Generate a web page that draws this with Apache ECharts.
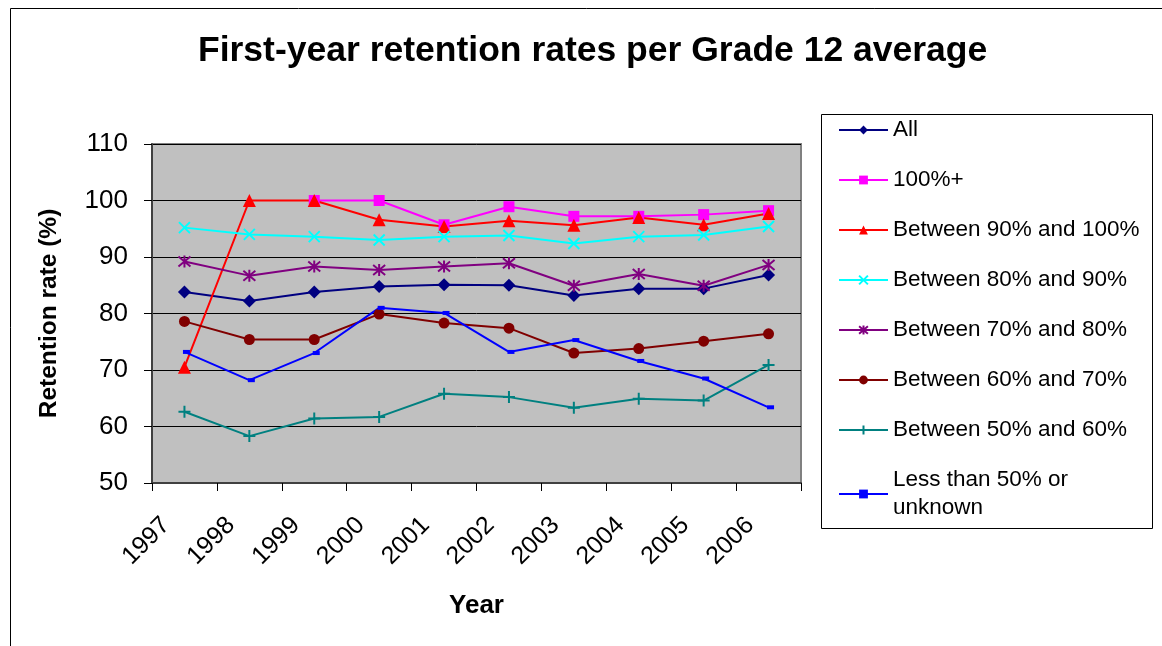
<!DOCTYPE html>
<html>
<head>
<meta charset="utf-8">
<title>First-year retention rates per Grade 12 average</title>
<script src="https://cdn.jsdelivr.net/npm/echarts@6/dist/echarts.min.js"></script>
<style>
  html, body { margin: 0; padding: 0; background: #fff; }
  #chart { width: 1162px; height: 646px; }
</style>
</head>
<body>
<div id="chart"></div>
<script>
// categories
const years = ['1997', '1998', '1999', '2000', '2001', '2002', '2003', '2004', '2005', '2006']

// series values (retention rate %)
const all = [83.8, 82.2, 83.8, 84.8, 85.1, 85.0, 83.2, 84.4, 84.4, 86.8]
const over100 = [null, null, 100, 100, 95.7, 98.9, 97.2, 97.2, 97.5, 98.2]
const from90to100 = [70.5, 100, 100, 96.6, 95.4, 96.4, 95.6, 97.0, 95.7, 97.7]
const from80to90 = [95.2, 94.0, 93.6, 93.0, 93.6, 93.8, 92.4, 93.6, 93.9, 95.4]
const from70to80 = [89.2, 86.7, 88.3, 87.7, 88.3, 88.9, 84.9, 87.0, 84.9, 88.6]
const from60to70 = [78.6, 75.4, 75.4, 79.9, 78.3, 77.4, 73.0, 73.8, 75.1, 76.4]
const from50to60 = [62.6, 58.3, 61.4, 61.7, 65.8, 65.2, 63.3, 64.9, 64.6, 70.9]
const under50 = [73.2, 68.2, 73.0, 81.0, 80.1, 73.2, 75.3, 71.6, 68.5, 63.4]

// y axis ticks
const yMin = 50
const yMax = 110
const yStep = 10

const FONT = 'Liberation Sans, Arial, sans-serif'

const crossPath = 'path://M0,0L10,10M10,0L0,10'
const starPath = 'path://M0,0L10,10M10,0L0,10M5,-1L5,11'
const plusPath = 'path://M5,0L5,10M0,5L10,5'

const makeSeries = (name, data, color, symbol, size, stroke) => ({
  name,
  type: 'line',
  data,
  symbol,
  symbolSize: size,
  showSymbol: true,
  connectNulls: false,
  lineStyle: { color, width: 2 },
  itemStyle: {
    color: stroke ? 'rgba(0,0,0,0)' : color,
    borderColor: color,
    borderWidth: stroke ? 2 : 0,
  },
  emphasis: { disabled: true },
})

const chart = echarts.init(document.getElementById('chart'), null, { renderer: 'canvas' })

const option = {
  backgroundColor: '#fff',
  animation: false,
  textStyle: { fontFamily: FONT },
  title: {
    text: 'First-year retention rates per Grade 12 average',
    left: 193,
    top: 28,
    textStyle: {
      fontFamily: FONT,
      fontSize: 35.5,
      fontWeight: 'bold',
      color: '#000',
    },
  },
  graphic: [
    {
      type: 'rect',
      shape: { x: 10.5, y: 8.5, width: 1200, height: 700 },
      style: { fill: 'none', stroke: '#000', lineWidth: 1 },
      silent: true,
    },
    {
      type: 'rect',
      shape: { x: 821.5, y: 114.5, width: 331, height: 414 },
      style: { fill: 'none', stroke: '#000', lineWidth: 1 },
      silent: true,
    },
  ],
  legend: {
    orient: 'vertical',
    left: 838,
    top: 116,
    itemWidth: 49,
    itemHeight: 11,
    itemGap: 22,
    padding: 0,
    selectedMode: false,
    textStyle: {
      fontFamily: FONT,
      fontSize: 22.5,
      color: '#000',
      lineHeight: 28,
    },
    formatter: name => (name === 'Less than 50% or unknown' ? 'Less than 50% or\nunknown' : name),
  },
  grid: {
    left: 152,
    right: 361,
    top: 144,
    bottom: 163,
    show: true,
    backgroundColor: '#C0C0C0',
    borderColor: '#808080',
    borderWidth: 2,
  },
  xAxis: {
    type: 'category',
    data: years,
    boundaryGap: true,
    name: 'Year',
    nameLocation: 'middle',
    nameGap: 110,
    nameTextStyle: { fontFamily: FONT, fontSize: 26, fontWeight: 'bold', color: '#000' },
    axisLine: { lineStyle: { color: '#404040', width: 2 } },
    axisTick: { show: true, length: 8, lineStyle: { color: '#000', width: 1 } },
    axisLabel: {
      interval: 0,
      rotate: 45,
      margin: 20,
      padding: [0, 26, 0, 0],
      fontFamily: FONT,
      fontSize: 25,
      color: '#000',
    },
    splitLine: { show: false },
  },
  yAxis: {
    type: 'value',
    min: yMin,
    max: yMax,
    interval: yStep,
    name: 'Retention rate (%)',
    nameLocation: 'middle',
    nameGap: 90,
    nameTextStyle: { fontFamily: FONT, fontSize: 24.5, fontWeight: 'bold', color: '#000' },
    axisLine: { show: true, lineStyle: { color: '#404040', width: 2 } },
    axisTick: { show: true, length: 8, lineStyle: { color: '#000', width: 1 } },
    axisLabel: {
      margin: 24,
      fontFamily: FONT,
      fontSize: 26,
      color: '#000',
    },
    splitLine: { show: true, lineStyle: { color: '#000', width: 1 } },
  },
  series: [
    makeSeries('All', all, '#000080', 'diamond', 13, false),
    makeSeries('100%+', over100, '#FF00FF', 'rect', 11, false),
    makeSeries('Between 90% and 100%', from90to100, '#FF0000', 'triangle', 13, false),
    makeSeries('Between 80% and 90%', from80to90, '#00FFFF', crossPath, 11, true),
    makeSeries('Between 70% and 80%', from70to80, '#800080', starPath, 12, true),
    makeSeries('Between 60% and 70%', from60to70, '#800000', 'circle', 11, false),
    makeSeries('Between 50% and 60%', from50to60, '#008080', plusPath, 12, true),
    Object.assign(makeSeries('Less than 50% or unknown', under50, '#0000FF', 'rect', [7, 4], false), {
      symbolOffset: [2, 0],
    }),
  ],
}

chart.setOption(option)
</script>
</body>
</html>
